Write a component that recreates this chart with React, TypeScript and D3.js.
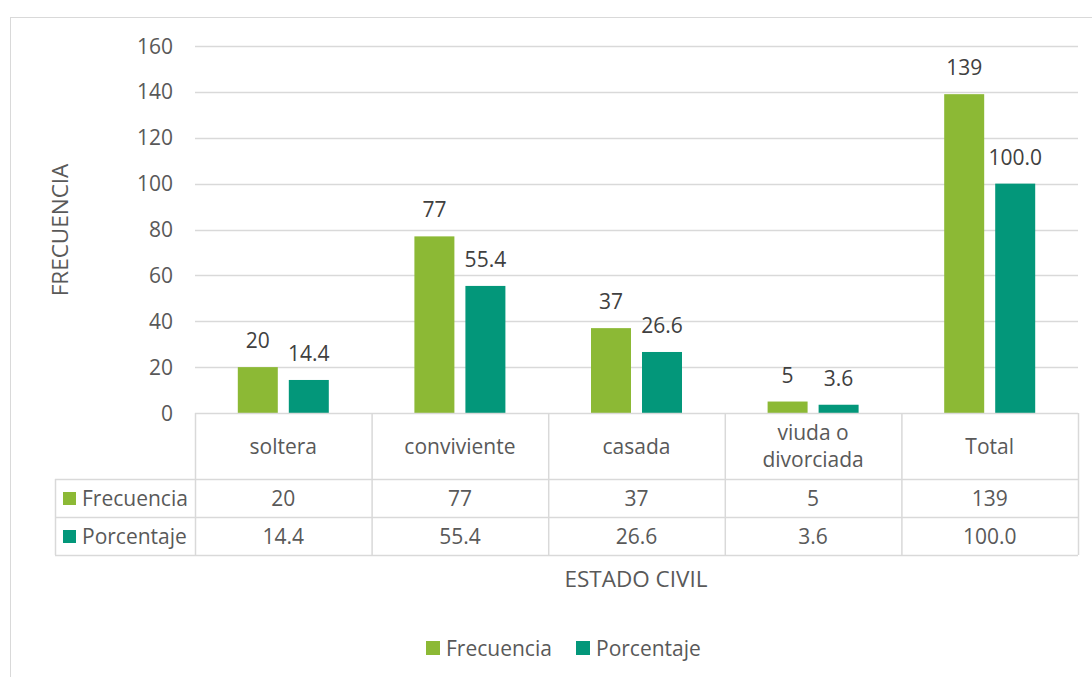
import React, { useRef, useEffect } from 'react';
import * as d3 from 'd3';

const categories = ['soltera', 'conviviente', 'casada', 'viuda o\ndivorciada', 'Total'];
const seriesNames = ['Frecuencia', 'Porcentaje'];
const frecuencia = [20, 77, 37, 5, 139];
const porcentaje = [14.4, 55.4, 26.6, 3.6, 100.0];
const yTicks = [0, 20, 40, 60, 80, 100, 120, 140, 160];

const colors = ['#8cb935', '#03977a'];
const formats = [d3.format('d'), d3.format('.1f')];

function App() {
  const svgRef = useRef<SVGSVGElement>(null);

  useEffect(() => {
    const width = 1092;
    const height = 677;
    const plotLeft = 195;
    const plotRight = 1078;
    const plotTop = 46;
    const plotBottom = 413;
    const headerBottom = 479;
    const rowH = 38;
    const tableLeft = 55;
    const font = "'Open Sans', sans-serif";
    const textColor = '#595959';
    const lineColor = '#d9d9d9';

    const values = [frecuencia, porcentaje];
    const data = categories.map((c, i) => ({ cat: c, vals: values.map(v => v[i]) }));

    const x = d3.scaleBand().domain(categories).range([plotLeft, plotRight]);
    const x1 = d3.scaleBand().domain(seriesNames).range([-45.5, 45.5]).paddingInner(0.216);
    const y = d3.scaleLinear().domain([0, 160]).range([plotBottom, plotTop]);

    const svg = d3.select(svgRef.current);
    svg.selectAll('*').remove();
    svg.attr('width', width).attr('height', height)
      .attr('viewBox', [0, 0, width, height])
      .style('font-family', font);

    svg.append('rect')
      .attr('width', width).attr('height', height).attr('fill', 'white');

    // chart border
    svg.append('rect')
      .attr('x', 10.5).attr('y', 17.5)
      .attr('width', width).attr('height', height)
      .attr('fill', 'none').attr('stroke', lineColor);

    // gridlines
    svg.append('g')
      .selectAll('line')
      .data(yTicks.filter(t => t > 0))
      .join('line')
      .attr('x1', plotLeft).attr('x2', plotRight)
      .attr('y1', d => Math.round(y(d)) + 0.5).attr('y2', d => Math.round(y(d)) + 0.5)
      .attr('stroke', lineColor).attr('stroke-width', 1.3);

    // y tick labels
    svg.append('g')
      .attr('fill', textColor).attr('font-size', 21).attr('text-anchor', 'end')
      .selectAll('text')
      .data(yTicks)
      .join('text')
      .attr('x', 173)
      .attr('y', d => y(d))
      .attr('dy', '0.36em')
      .text(d => d);

    // bars
    const groups = svg.append('g')
      .selectAll('g')
      .data(data)
      .join('g')
      .attr('transform', d => `translate(${x(d.cat)! + x.bandwidth() / 2},0)`);

    groups.selectAll('rect')
      .data(d => d.vals.map((v, k) => ({ v, k })))
      .join('rect')
      .attr('x', d => x1(seriesNames[d.k])!)
      .attr('width', x1.bandwidth())
      .attr('y', d => y(d.v))
      .attr('height', d => y(0) - y(d.v))
      .attr('fill', d => colors[d.k]);

    groups.selectAll('text')
      .data(d => d.vals.map((v, k) => ({ v, k })))
      .join('text')
      .attr('x', d => x1(seriesNames[d.k])! + x1.bandwidth() / 2)
      .attr('y', d => y(d.v) - 19)
      .attr('text-anchor', 'middle')
      .attr('font-size', 21)
      .attr('fill', '#404040')
      .text(d => formats[d.k](d.v));

    // data table
    const table = svg.append('g').attr('stroke', lineColor).attr('stroke-width', 1.5);
    const rowLines = [plotBottom, headerBottom, headerBottom + rowH, headerBottom + 2 * rowH];
    table.selectAll('line.h')
      .data(rowLines)
      .join('line')
      .attr('class', 'h')
      .attr('x1', (d, i) => (i === 0 ? plotLeft : tableLeft))
      .attr('x2', plotRight)
      .attr('y1', d => d + 0.5).attr('y2', d => d + 0.5);

    const colLines = categories.map(c => x(c)!).concat([plotRight]);
    table.selectAll('line.v')
      .data(colLines)
      .join('line')
      .attr('class', 'v')
      .attr('x1', d => d + 0.5).attr('x2', d => d + 0.5)
      .attr('y1', plotBottom).attr('y2', headerBottom + 2 * rowH);
    table.append('line')
      .attr('x1', tableLeft + 0.5).attr('x2', tableLeft + 0.5)
      .attr('y1', headerBottom).attr('y2', headerBottom + 2 * rowH);

    // category labels
    const catLabels = svg.append('g')
      .attr('fill', textColor).attr('font-size', 21).attr('text-anchor', 'middle')
      .selectAll('text')
      .data(categories)
      .join('text')
      .attr('x', d => x(d)! + x.bandwidth() / 2)
      .attr('y', (plotBottom + headerBottom) / 2);
    catLabels.each(function (d) {
      const lines = d.split('\n');
      const t = d3.select(this);
      lines.forEach((ln, i) => {
        t.append('tspan')
          .attr('x', x(d)! + x.bandwidth() / 2)
          .attr('dy', i === 0 ? `${0.36 - (lines.length - 1) * 0.65}em` : '1.3em')
          .text(ln);
      });
    });

    // table rows
    seriesNames.forEach((name, k) => {
      const cy = headerBottom + rowH * k + rowH / 2;
      svg.append('rect')
        .attr('x', 63).attr('y', cy - 6).attr('width', 13).attr('height', 13)
        .attr('fill', colors[k]);
      svg.append('text')
        .attr('x', 82).attr('y', cy).attr('dy', '0.36em')
        .attr('font-size', 21).attr('fill', textColor)
        .text(name);
      svg.append('g')
        .attr('fill', textColor).attr('font-size', 21).attr('text-anchor', 'middle')
        .selectAll('text')
        .data(data)
        .join('text')
        .attr('x', d => x(d.cat)! + x.bandwidth() / 2)
        .attr('y', cy).attr('dy', '0.36em')
        .text(d => formats[k](d.vals[k]));
    });

    // axis titles
    svg.append('text')
      .attr('transform', 'translate(60,230) rotate(-90)')
      .attr('text-anchor', 'middle').attr('dy', '0.36em')
      .attr('font-size', 22.5).attr('fill', textColor)
      .text('FRECUENCIA');
    svg.append('text')
      .attr('x', 636).attr('y', 579).attr('dy', '0.36em')
      .attr('text-anchor', 'middle')
      .attr('font-size', 22.5).attr('fill', textColor)
      .text('ESTADO CIVIL');

    // legend
    const legendX = [426, 576];
    seriesNames.forEach((name, k) => {
      svg.append('rect')
        .attr('x', legendX[k]).attr('y', 641).attr('width', 14).attr('height', 14)
        .attr('fill', colors[k]);
      svg.append('text')
        .attr('x', legendX[k] + 20).attr('y', 648).attr('dy', '0.36em')
        .attr('font-size', 21).attr('fill', textColor)
        .text(name);
    });
  }, []);

  return (
    <div style={{ position: 'absolute', left: 0, top: 0 }}>
      <svg ref={svgRef} style={{ display: 'block' }}></svg>
    </div>
  );
}

export default App;
